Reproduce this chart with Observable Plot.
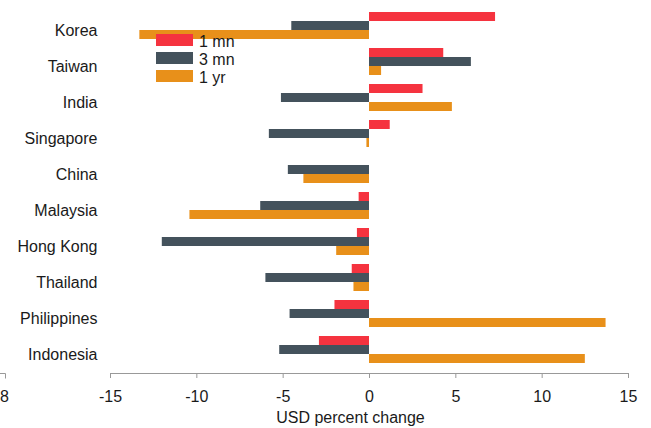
<!DOCTYPE html>
<html><head><meta charset="utf-8">
<script src="https://cdn.jsdelivr.net/npm/d3@7"></script>
<script src="https://cdn.jsdelivr.net/npm/@observablehq/plot@0.6"></script>
<style>body{margin:0;background:#fff;font-family:"Liberation Sans",Arial,sans-serif}</style>
</head><body><div id="chart"></div>
<script>
const countries = ["Korea","Taiwan","India","Singapore","China","Malaysia","Hong Kong","Thailand","Philippines","Indonesia"];
const seriesNames = ["1 mn","3 mn","1 yr"];
const oneMonth = [7.3, 4.3, 3.1, 1.2, 0, -0.6, -0.7, -1.0, -2.0, -2.9];
const threeMonth = [-4.5, 5.9, -5.1, -5.8, -4.7, -6.3, -12.0, -6.0, -4.6, -5.2];
const oneYear = [-13.3, 0.7, 4.8, -0.15, -3.8, -10.4, -1.9, -0.9, 13.7, 12.5];
const xTicks = [-15, -10, -5, 0, 5, 10, 15];
const colors = ["#F5333F", "#44525C", "#E8901A"];
const axisTitle = "USD percent change";

const rows = countries.map((c, i) => ({country: c, m1: oneMonth[i], m3: threeMonth[i], y1: oneYear[i]}));

const font = "Liberation Sans, Arial, sans-serif";
const plot = Plot.plot({
  width: 651, height: 428,
  marginTop: 0, marginBottom: 55, marginLeft: 110, marginRight: 23,
  style: {fontFamily: font, fontSize: "16px", color: "#1a1a1a", background: "#fff", overflow: "visible"},
  x: {domain: [-15, 15], ticks: xTicks, label: null},
  y: {domain: countries, paddingInner: 0.25, paddingOuter: 0.3056, align: 0.5455, round: false, label: null},
  marks: [
    Plot.barX(rows, {x: "m1", y: "country", fill: colors[0], insetTop: 0, insetBottom: 18}),
    Plot.barX(rows, {x: "m3", y: "country", fill: colors[1], insetTop: 9, insetBottom: 9}),
    Plot.barX(rows, {x: "y1", y: "country", fill: colors[2], insetTop: 18, insetBottom: 0}),
    Plot.axisY({tickSize: 0, tickPadding: 13, dy: 5, fontSize: 16, label: null}),
    Plot.axisX({ticks: xTicks, tickSize: 5, tickPadding: 12, stroke: "#999", fontSize: 16, tickFormat: d => String(d), label: null}),
    Plot.frame({anchor: "bottom", stroke: "#999"}),
    Plot.text([axisTitle], {frameAnchor: "bottom", lineAnchor: "bottom", dy: 49, dx: -19, fontSize: 16, fill: "#1a1a1a"})
  ]
});
document.getElementById("chart").appendChild(plot);

// legend (inside plot area, drawn over bars)
const svg = d3.select(plot);
const lg = svg.append("g").attr("font-family", font).attr("font-size", 16).attr("text-anchor", "start");
seriesNames.forEach((s, i) => {
  lg.append("rect").attr("x", 156).attr("y", 34 + 18 * i).attr("width", 37).attr("height", 12).attr("fill", colors[i]);
  lg.append("text").attr("x", 199).attr("y", 47 + 18 * i).attr("fill", "#1a1a1a").text(s);
});
// clipped axis fragment at bottom-left as in the reference
const frag = svg.append("g");
frag.append("path").attr("d", "M0,373.5H5.5V378.5").attr("fill", "none").attr("stroke", "#999");
frag.append("text").attr("x", 4.5).attr("y", 402).attr("text-anchor", "middle").attr("font-family", font).attr("font-size", 16).attr("fill", "#1a1a1a").text("8");
</script>
</body></html>
